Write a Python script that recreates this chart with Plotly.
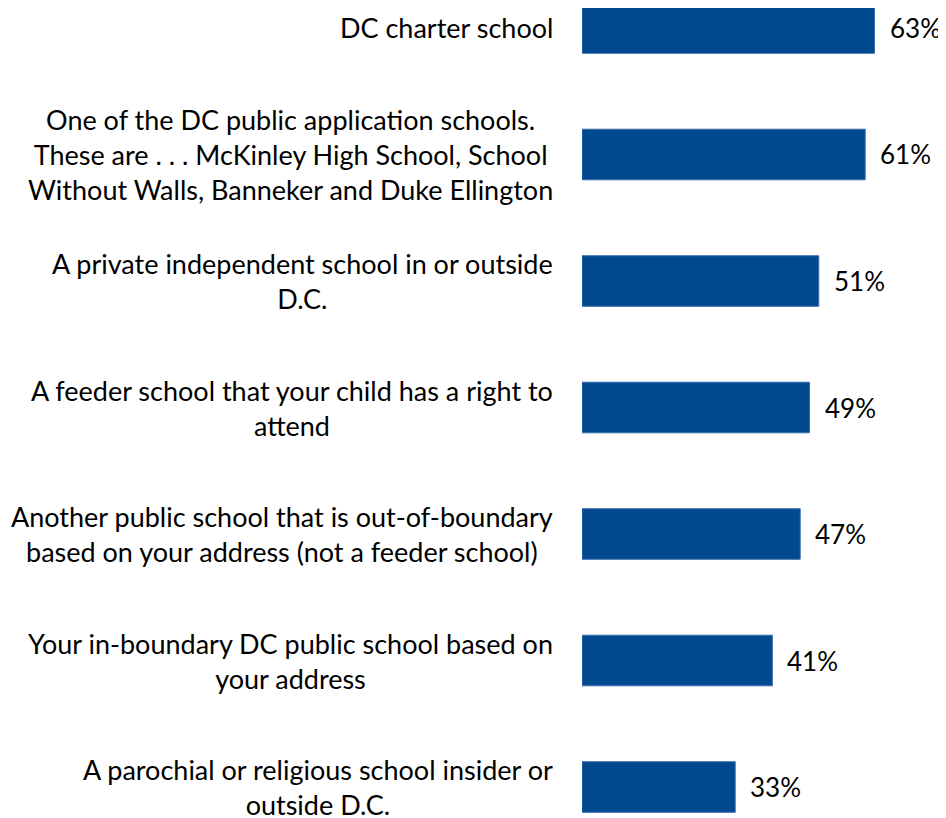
import plotly.graph_objects as go

categories = [
    "DC charter school",
    "One of the DC public application schools.<br>These are . . . McKinley High School, School<br>Without Walls, Banneker and Duke Ellington",
    "A private independent school in or outside<br>D.C.",
    "A feeder school that your child has a right to<br>attend",
    "Another public school that is out-of-boundary<br>based on your address (not a feeder school)",
    "Your in-boundary DC public school based on<br>your address",
    "A parochial or religious school insider or<br>outside D.C.",
]
values = [63, 61, 51, 49, 47, 41, 33]
value_labels = [f"{v}%" for v in values]

FONT = "Lato"
FS = 27
fig = go.Figure()
fig.add_trace(go.Bar(
    x=values, y=categories, orientation="h",
    marker=dict(color="#00498f", line=dict(color="#3a6fae", width=1)),
    width=0.40,
    hoverinfo="skip",
))
for v, c, t in zip(values, categories, value_labels):
    fig.add_annotation(x=v, y=c, text=t, showarrow=False, xanchor="left",
                       xshift=13, font=dict(family=FONT, size=26, color="#000000"))
for c in categories:
    fig.add_annotation(x=0, xref="paper", y=c, yref="y", text=c,
                       showarrow=False, xanchor="right", align="center",
                       xshift=-27, font=dict(family=FONT, size=FS, color="#000000"))

fig.update_layout(
    width=938, height=810,
    margin=dict(l=574, r=0, t=0, b=0),
    paper_bgcolor="white", plot_bgcolor="white",
    showlegend=False,
    font=dict(family=FONT, size=FS, color="#000000"),
)
fig.update_xaxes(range=[0, 78.4], visible=False, automargin=False)
fig.update_yaxes(categoryorder="array", categoryarray=categories,
                 range=[6.245, -0.158], showgrid=False, showline=False,
                 zeroline=False, ticks="", automargin=False,
                 showticklabels=False)
fig.write_html("out.html")
